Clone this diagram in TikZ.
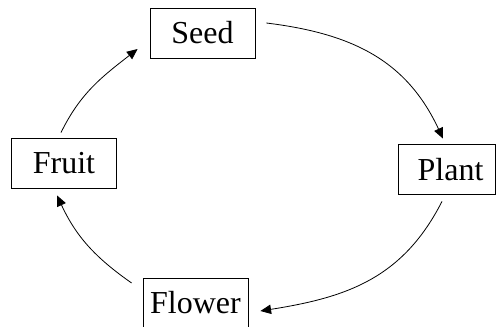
\documentclass[tikz,border=0pt]{standalone}
\usepackage{fontspec}
\setmainfont{Liberation Serif}
\usetikzlibrary{arrows.meta}
\begin{document}
\begin{tikzpicture}[x=0.75pt,y=0.75pt,
  box/.style={draw, line width=0.6pt, minimum width=78.75pt, minimum height=37.5pt,
    inner sep=0pt, font=\fontsize{24}{28}\selectfont},
  cyc/.style={line width=0.6pt, -{Triangle[length=8pt,width=7pt]}}]
\useasboundingbox (0,0) rectangle (496,326);
\clip (0,0) rectangle (496,326);
\node[box] (seed) at (202.5,293) {Seed};
\node[box, minimum width=72.75pt] (plant) at (446.5,156.5) {\hspace*{6pt}Plant};
\node[box] (flower) at (195.5,23) {Flower};
\node[box] (fruit) at (64,162.5) {Fruit};
\draw[cyc] ([shift={(11,10)}]seed.east) to[out=-7,in=115,looseness=1.05] ([shift={(-3.5,5.5)}]plant.north);
\draw[cyc] ([shift={(-4.5,-6.5)}]plant.south) to[out=-117,in=9,looseness=1.05] ([shift={(12,-8)}]flower.east);
\draw[cyc] ([shift={(-11,20)}]flower.west) to[out=145,in=-65] ([shift={(-7,-6.5)}]fruit.south);
\draw[cyc] ([shift={(-3,5.5)}]fruit.north) to[out=64,in=218] ([shift={(-12,-16)}]seed.west);
\end{tikzpicture}
\end{document}
